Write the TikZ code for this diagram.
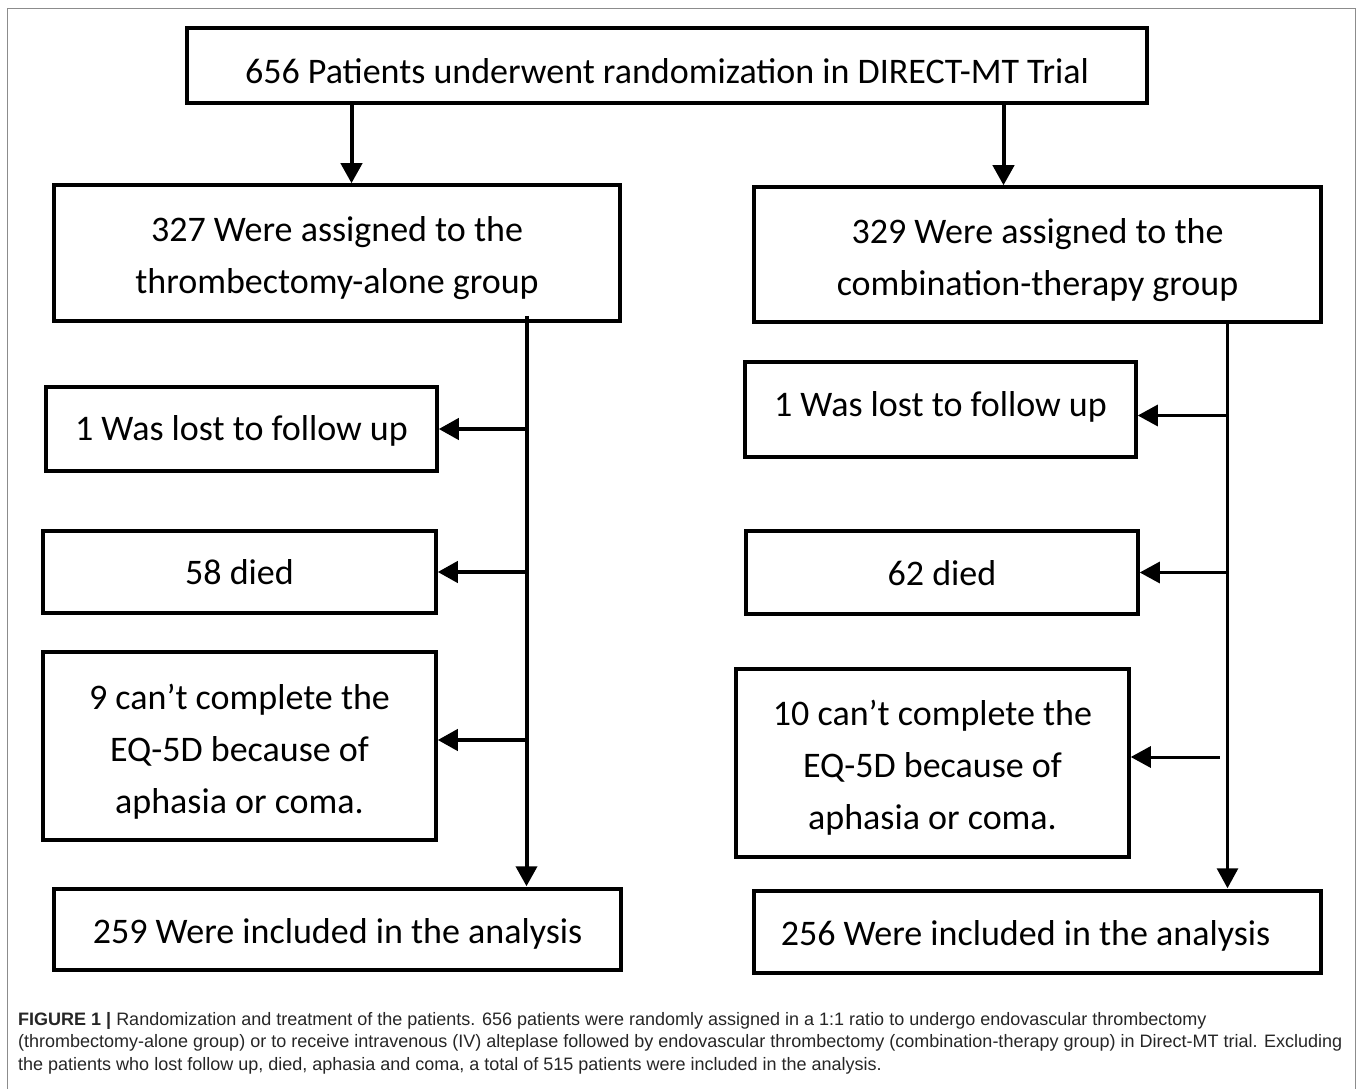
\documentclass[tikz,border=0pt]{standalone}
\usepackage{fontspec}
\setmainfont{Carlito}
\newfontfamily\capfont{Liberation Sans}
\usetikzlibrary{arrows.meta,calc}
\begin{document}
\begin{tikzpicture}[x=1pt,y=-1pt,
  box/.style={draw, line width=3.5pt, rectangle, inner sep=0pt, align=center,
              font=\fontsize{36}{52}\selectfont},
  arr/.style={line width=4pt, -{Triangle[length=20pt,width=21pt]}},
  arrthin/.style={line width=3pt, -{Triangle[length=20pt,width=21pt]}},
  frame/.style={draw=black!45, line width=1.5pt}
]
\useasboundingbox (0,0) rectangle (1358,1089);
\fill[white] (0,0) rectangle (1358,1089);
\draw[frame] (7.5,1089) -- (7.5,8.5) -- (1355.5,8.5) -- (1355.5,1089);

% boxes
\node[box, minimum width=960pt, minimum height=75pt, text height=36pt, text depth=0pt] (top) at (667,65.5)
  {656 Patients underwent randomization in DIRECT-MT Trial};
\node[box, minimum width=566pt, minimum height=136pt] (L2) at (337,253)
  {\rule{0pt}{36pt}327 Were assigned to the\\thrombectomy-alone group};
\node[box, minimum width=567pt, minimum height=135pt] (R2) at (1037.5,254.5)
  {\rule{0pt}{36pt}329 Were assigned to the\\combination-therapy group};

\node[box, minimum width=391pt, minimum height=84pt, text height=22pt, text depth=0pt] (Llost) at (241.5,429)
  {1 Was lost to follow up};
\node[box, minimum width=393pt, minimum height=82pt, text height=25pt, text depth=0pt] (Ldied) at (239.5,572)
  {58 died};
\node[box, minimum width=393pt, minimum height=188pt] (LEQ) at (239.5,746)
  {\rule{0pt}{37pt}9 can’t complete the\\EQ-5D because of\\aphasia or coma.};
\node[box, minimum width=567pt, minimum height=81pt, text height=28pt, text depth=0pt] (Lfin) at (337.5,929.5)
  {259 Were included in the analysis};

\node[box, minimum width=391pt, minimum height=95pt, text height=14pt, text depth=0pt] (Rlost) at (940.5,409.5)
  {1 Was lost to follow up};
\node[box, minimum width=392pt, minimum height=83pt, text height=25pt, text depth=0pt] (Rdied) at (942,572.5)
  {62 died};
\node[box, minimum width=393pt, minimum height=188pt] (REQ) at (932.5,763)
  {\rule{0pt}{34pt}10 can’t complete the\\EQ-5D because of\\aphasia or coma.};
\node[box, minimum width=567pt, minimum height=82pt, text height=26pt, text depth=0pt] (Rfin) at (1037.5,932)
  {\hspace*{-24pt}256 Were included in the analysis};

% trunk coordinates
\coordinate (ax) at (351.5,0);
\coordinate (bx) at (1003.5,0);
\coordinate (lt) at (526.5,0);
\coordinate (rt) at (1227.5,0);

% connectors
\draw[arr] (top.south -| ax) -- (L2.north -| ax);
\draw[arr] (top.south -| bx) -- (R2.north -| bx);

\draw[arr] ([yshift=7pt]L2.south -| lt) -- ([yshift=1pt]Lfin.north -| lt);
\draw[arr] (Llost.east -| lt) -- (Llost.east);
\draw[arr] (Ldied.east -| lt) -- (Ldied.east);
\draw[arr] ([yshift=6pt]LEQ.east -| lt) -- ([yshift=6pt]LEQ.east);

\draw[arrthin] (R2.south -| rt) -- ([yshift=1pt]Rfin.north -| rt);
\draw[arrthin] ([yshift=-6pt]Rlost.east -| rt) -- ([yshift=-6pt]Rlost.east);
\draw[arrthin] (Rdied.east -| rt) -- (Rdied.east);
\draw[arrthin] ([xshift=-8pt,yshift=6pt]REQ.east -| rt) -- ([yshift=6pt]REQ.east);

% caption
\node[anchor=north west, align=left, inner sep=0pt, text=black!85,
      font=\capfont\fontsize{18}{22.5}\selectfont] (cap) at (18,1012)
  {\textbf{FIGURE 1 |} Randomization and treatment of the patients. 656 patients were randomly assigned in a 1:1 ratio to undergo endovascular thrombectomy\\
   (thrombectomy-alone group) or to receive intravenous (IV) alteplase followed by endovascular thrombectomy (combination-therapy group) in Direct-MT trial. Excluding\\
   the patients who lost follow up, died, aphasia and coma, a total of 515 patients were included in the analysis.};
\end{tikzpicture}
\end{document}
